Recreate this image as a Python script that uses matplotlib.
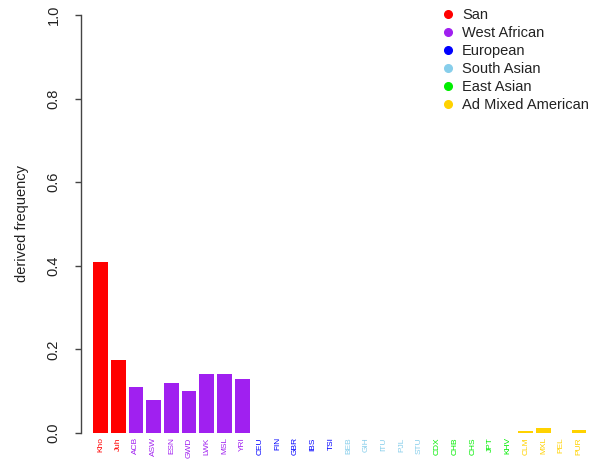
import numpy as np
import matplotlib
matplotlib.use('Agg')
import matplotlib.pyplot as plt
from matplotlib.lines import Line2D

plt.rcParams['font.family'] = ['Liberation Sans', 'DejaVu Sans']

# populations in plotting order
pops = ["Kho", "Juh",
        "ACB", "ASW", "ESN", "GWD", "LWK", "MSL", "YRI",
        "CEU", "FIN", "GBR", "IBS", "TSI",
        "BEB", "GIH", "ITU", "PJL", "STU",
        "CDX", "CHB", "CHS", "JPT", "KHV",
        "CLM", "MXL", "PEL", "PUR"]
groups = ["San"] * 2 + ["West African"] * 7 + ["European"] * 5 + \
         ["South Asian"] * 5 + ["East Asian"] * 5 + ["Ad Mixed American"] * 4
freq = [0.410, 0.175,
        0.109, 0.080, 0.120, 0.100, 0.140, 0.140, 0.128,
        0.0, 0.0, 0.0, 0.0, 0.0,
        0.0, 0.0, 0.0, 0.0, 0.0,
        0.0, 0.0, 0.0, 0.0, 0.0,
        0.004, 0.013, 0.0, 0.007]

group_names = ["San", "West African", "European", "South Asian", "East Asian", "Ad Mixed American"]
group_cols = {"San": "#FF0000", "West African": "#A020F0", "European": "#0000FF",
              "South Asian": "#87CEEB", "East Asian": "#00EE00", "Ad Mixed American": "#FFD200"}

cols = [group_cols[g] for g in groups]
xpos = 0.7 + 1.2 * np.arange(len(pops))

W, H = 592, 462
fig = plt.figure(figsize=(W / 100, H / 100), dpi=100)
ax = fig.add_axes([81 / W, 29 / H, 511 / W, 418 / H])

ax.bar(xpos, freq, width=1.0, color=cols, linewidth=0)

ax.set_xlim(-0.62, 33.98)
ax.set_ylim(0, 1)

for s in ["top", "right", "bottom"]:
    ax.spines[s].set_visible(False)
ax.spines["left"].set_color("#444444")
ax.spines["left"].set_linewidth(1.0)

ax.set_yticks([0.0, 0.2, 0.4, 0.6, 0.8, 1.0])
ax.set_yticklabels(["0.0", "0.2", "0.4", "0.6", "0.8", "1.0"], rotation=90, va="center")
ax.tick_params(axis="y", length=4, width=1.0, color="#444444", pad=10.5,
               labelsize=10.5, labelcolor="#222222")

ax.set_xticks(xpos)
ax.set_xticklabels(pops, rotation=90, fontsize=6, va="top")
ax.tick_params(axis="x", length=0, pad=3)
for lab, c in zip(ax.get_xticklabels(), cols):
    lab.set_color(c)

ax.set_ylabel("derived frequency", fontsize=10.5, color="#222222")
ax.yaxis.set_label_coords(-52 / 511, 0.5)

handles = [Line2D([], [], marker="o", linestyle="", markersize=5.5,
                  markerfacecolor=group_cols[g], markeredgecolor=group_cols[g])
           for g in group_names]
ax.legend(handles, group_names, loc="upper left", bbox_to_anchor=(440.7 / W, 454 / H),
          bbox_transform=fig.transFigure, frameon=False, fontsize=10.5,
          borderpad=0, borderaxespad=0, handlelength=1.0, handletextpad=0.46,
          labelspacing=0.27, labelcolor="#222222")

fig.savefig("out.png", dpi=100)
